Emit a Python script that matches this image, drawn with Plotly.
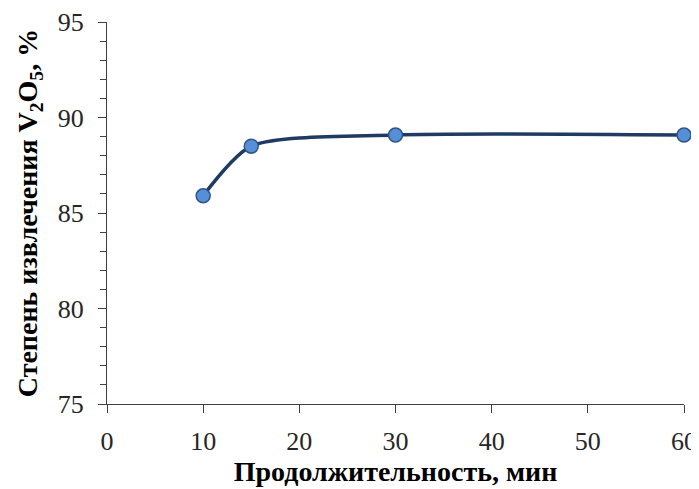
import plotly.graph_objects as go

duration = [10, 15, 30, 60]
extraction = [85.9, 88.5, 89.08, 89.08]
x_ticks = [0, 10, 20, 30, 40, 50, 60]
y_ticks = [75, 80, 85, 90, 95]

font_family = "Liberation Serif"

fig = go.Figure()
fig.add_trace(go.Scatter(
    x=duration, y=extraction, mode="lines+markers",
    line=dict(color="#1F3B64", width=3.5, shape="spline", smoothing=0.7),
    marker=dict(size=14, color="#5590D6", line=dict(color="#2F5485", width=1.5)),
    showlegend=False, cliponaxis=False,
))

axis_common = dict(
    showgrid=False, zeroline=False, showline=True, linecolor="#404040", linewidth=1.2,
    ticks="outside", ticklen=8, tickwidth=1.2, tickcolor="#404040",
    tickfont=dict(family=font_family, size=26, color="#262626"),
    automargin=False,
)

fig.update_xaxes(
    range=[0, 60], tickvals=x_ticks, ticklabelstandoff=6, **axis_common,
    title=dict(text="<b>Продолжительность, мин</b>", font=dict(family=font_family, size=28, color="#000000"), standoff=0),
)
fig.update_yaxes(
    range=[75, 95], tickvals=y_ticks, ticklabelstandoff=9, **axis_common,
    minor=dict(ticks="outside", ticklen=6, dtick=1, tickcolor="#404040", tickwidth=1.2, showgrid=False),
    title=dict(text="<b>Степень извлечения V<sub>2</sub>O<sub>5</sub>, %</b>", font=dict(family=font_family, size=28, color="#000000"), standoff=11),
)

fig.update_layout(
    width=699, height=489,
    margin=dict(l=99, r=23, t=14, b=93, autoexpand=False),
    paper_bgcolor="white", plot_bgcolor="white",
    font=dict(family=font_family),
)

fig.write_html("out.html")
